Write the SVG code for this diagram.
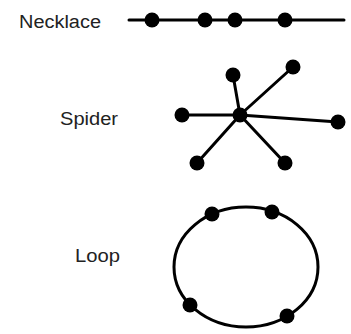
<svg xmlns="http://www.w3.org/2000/svg" width="351" height="334" viewBox="0 0 351 334">
  <style>
    .label { font-family: "Liberation Sans", Arial, sans-serif; font-size: 18px; fill: #222; }
    .edge { stroke: #000; stroke-width: 3; fill: none; stroke-linecap: round; }
    .dot { fill: #000; }
  </style>
  <rect width="351" height="334" fill="#fff"/>

  <!-- Necklace -->
  <g id="necklace">
    <text class="label" x="19" y="28" textLength="82" lengthAdjust="spacingAndGlyphs">Necklace</text>
    <g id="necklace-connectors">
      <line class="edge" x1="129" y1="20" x2="344" y2="20"/>
    </g>
    <g id="necklace-n1"><circle class="dot" cx="152" cy="20" r="7.5"/></g>
    <g id="necklace-n2"><circle class="dot" cx="205" cy="20" r="7.5"/></g>
    <g id="necklace-n3"><circle class="dot" cx="235" cy="20" r="7.5"/></g>
    <g id="necklace-n4"><circle class="dot" cx="285" cy="20" r="7.5"/></g>
  </g>

  <!-- Spider -->
  <g id="spider">
    <text class="label" x="60" y="125" textLength="58" lengthAdjust="spacingAndGlyphs">Spider</text>
    <g id="spider-connectors">
      <line class="edge" x1="240" y1="115" x2="233" y2="75"/>
      <line class="edge" x1="240" y1="115" x2="293" y2="67"/>
      <line class="edge" x1="240" y1="115" x2="182" y2="115"/>
      <line class="edge" x1="240" y1="115" x2="338" y2="122"/>
      <line class="edge" x1="240" y1="115" x2="197" y2="163"/>
      <line class="edge" x1="240" y1="115" x2="285" y2="163"/>
    </g>
    <g id="spider-hub"><circle class="dot" cx="240" cy="115" r="7.5"/></g>
    <g id="spider-n1"><circle class="dot" cx="233" cy="75" r="7.5"/></g>
    <g id="spider-n2"><circle class="dot" cx="293" cy="67" r="7.5"/></g>
    <g id="spider-n3"><circle class="dot" cx="182" cy="115" r="7.5"/></g>
    <g id="spider-n4"><circle class="dot" cx="338" cy="122" r="7.5"/></g>
    <g id="spider-n5"><circle class="dot" cx="197" cy="163" r="7.5"/></g>
    <g id="spider-n6"><circle class="dot" cx="285" cy="163" r="7.5"/></g>
  </g>

  <!-- Loop -->
  <g id="loop">
    <text class="label" x="75" y="262" textLength="45" lengthAdjust="spacingAndGlyphs">Loop</text>
    <g id="loop-connectors">
      <ellipse class="edge" cx="246" cy="267" rx="72" ry="60"/>
    </g>
    <g id="loop-n1"><circle class="dot" cx="212" cy="214" r="7.5"/></g>
    <g id="loop-n2"><circle class="dot" cx="272" cy="212" r="7.5"/></g>
    <g id="loop-n3"><circle class="dot" cx="190" cy="305" r="7.5"/></g>
    <g id="loop-n4"><circle class="dot" cx="287" cy="316" r="7.5"/></g>
  </g>
</svg>
